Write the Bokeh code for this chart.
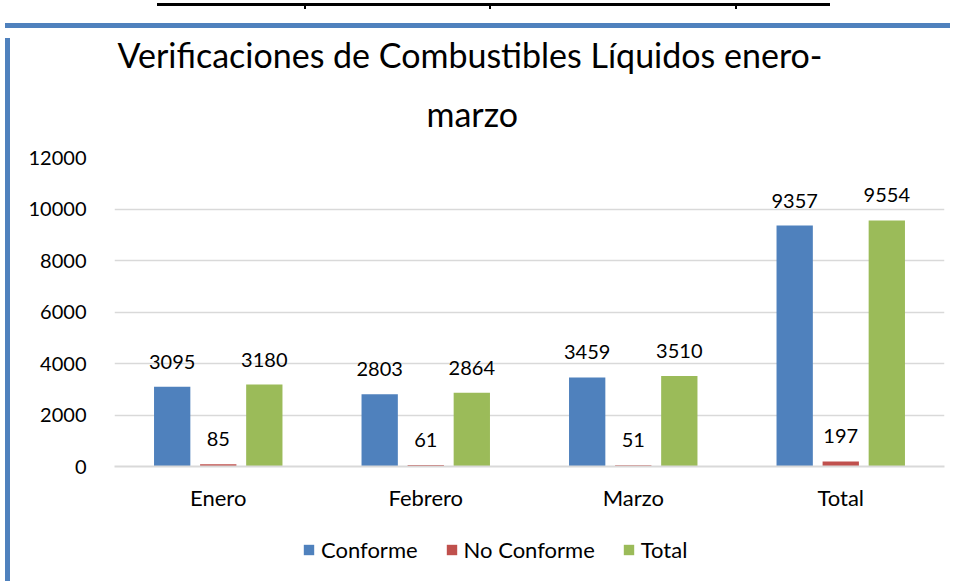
from bokeh.plotting import figure
from bokeh.models import ColumnDataSource, FactorRange, Range1d, Title, Div, Legend, LegendItem
from bokeh.layouts import column, row
from bokeh.transform import dodge
from bokeh.core.properties import value
from bokeh.embed import file_html
from bokeh.resources import INLINE

categories = ["Enero", "Febrero", "Marzo", "Total"]
conforme = [3095, 2803, 3459, 9357]
no_conforme = [85, 61, 51, 197]
total = [3180, 2864, 3510, 9554]
series_names = ["Conforme", "No Conforme", "Total"]
y_ticks = [0, 2000, 4000, 6000, 8000, 10000, 12000]
title_lines = ["Verificaciones de Combustibles Líquidos enero-", "marzo"]

FONT = "Lato"
colors = ["#4F81BD", "#C0504D", "#9BBB59"]
BLUE_FRAME = "#4F81BD"

source = ColumnDataSource(dict(
    cat=categories,
    conforme=conforme,
    no_conforme=no_conforme,
    total=total,
    conforme_lbl=[str(v) for v in conforme],
    no_conforme_lbl=[str(v) for v in no_conforme],
    total_lbl=[str(v) for v in total],
))

p = figure(
    x_range=FactorRange(factors=categories),
    y_range=Range1d(0, 12000),
    width=940, height=491,
    output_backend="svg", toolbar_location=None,
    min_border_left=99, min_border_right=11,
    min_border_top=124, min_border_bottom=58,
    background_fill_color="white", border_fill_color="white",
)
p.outline_line_color = None

fields = ["conforme", "no_conforme", "total"]
offsets = [-0.222, 0.0, 0.222]
for f, off, col in zip(fields, offsets, colors):
    p.vbar(x=dodge("cat", off, range=p.x_range), top=f, width=0.175,
           source=source, fill_color=col, line_color=None)
    p.text(x=dodge("cat", off, range=p.x_range), y=f, text=f + "_lbl", source=source,
           text_align="center", text_baseline="alphabetic", y_offset=-25,
           text_font=value(FONT), text_font_size="20px", text_color="black")

p.yaxis.ticker = y_ticks
p.yaxis.axis_line_color = None
p.yaxis.major_tick_line_color = None
p.yaxis.minor_tick_line_color = None
p.yaxis.major_label_standoff = 22
p.yaxis.major_label_text_font = FONT
p.yaxis.major_label_text_font_size = "20px"
p.yaxis.major_label_text_color = "black"

p.xaxis.axis_line_color = "#D9D9D9"
p.xaxis.axis_line_width = 2
p.xaxis.major_tick_line_color = None
p.xaxis.minor_tick_line_color = None
p.xaxis.major_label_standoff = 11
p.xaxis.major_label_text_font = FONT
p.xaxis.major_label_text_font_size = "22px"
p.xaxis.major_label_text_color = "black"

p.xgrid.grid_line_color = None
p.ygrid.grid_line_color = "#D9D9D9"
p.ygrid.grid_line_width = 1.5

# two-line title: first added sits closest to the plot
p.add_layout(Title(text=title_lines[1], align="left", offset=312, standoff=48,
                   text_font=FONT, text_font_size="34px", text_font_style="normal",
                   text_color="black"), "above")
p.add_layout(Title(text=title_lines[0], align="left", offset=3, standoff=-16,
                   text_font=FONT, text_font_size="34px", text_font_style="normal",
                   text_color="black"), "above")

# legend in its own strip below the chart (swatch renderers hold no visible points)
pl = figure(width=940, height=52, output_backend="svg", toolbar_location=None,
            x_range=Range1d(0, 1), y_range=Range1d(0, 1),
            x_axis_location=None, y_axis_location=None,
            min_border=0, background_fill_color="white", border_fill_color="white")
pl.outline_line_color = None
pl.grid.visible = False
nan = float("nan")
items = []
for col, name in zip(colors, series_names):
    r = pl.vbar(x=[nan], top=[nan], width=0.1, fill_color=col, line_color=None)
    items.append(LegendItem(label=name, renderers=[r]))
legend = Legend(items=items, orientation="horizontal", location=(188, 13),
                glyph_width=13, glyph_height=13, label_standoff=6, spacing=27,
                label_text_font=FONT, label_text_font_size="22px",
                label_text_color="black",
                border_line_color=None, background_fill_alpha=0, margin=0, padding=6)
pl.add_layout(legend)

table_html = (
    '<div style="position:relative;width:945px;height:8px;">'
    '<div style="position:absolute;left:152px;top:-6px;width:673px;height:3px;'
    'border-left:2px solid #000;border-right:2px solid #000;border-bottom:3px solid #000;"></div>'
    '<div style="position:absolute;left:299px;top:-6px;width:2px;height:6px;background:#000;"></div>'
    '<div style="position:absolute;left:484px;top:-6px;width:2px;height:6px;background:#000;"></div>'
    '<div style="position:absolute;left:730px;top:-6px;width:2px;height:6px;background:#000;"></div>'
    '</div>'
)
top_div = Div(text=table_html, width=945, height=8)
top_bar = Div(text="", width=945, height=5, styles={"background-color": BLUE_FRAME})
left_bar = Div(text="", width=5, height=543, styles={"background-color": BLUE_FRAME})

layout = column(top_div, top_bar,
                row(left_bar, column(p, pl, spacing=0), spacing=0), spacing=0)
open("out.html", "w").write(file_html(layout, INLINE))
